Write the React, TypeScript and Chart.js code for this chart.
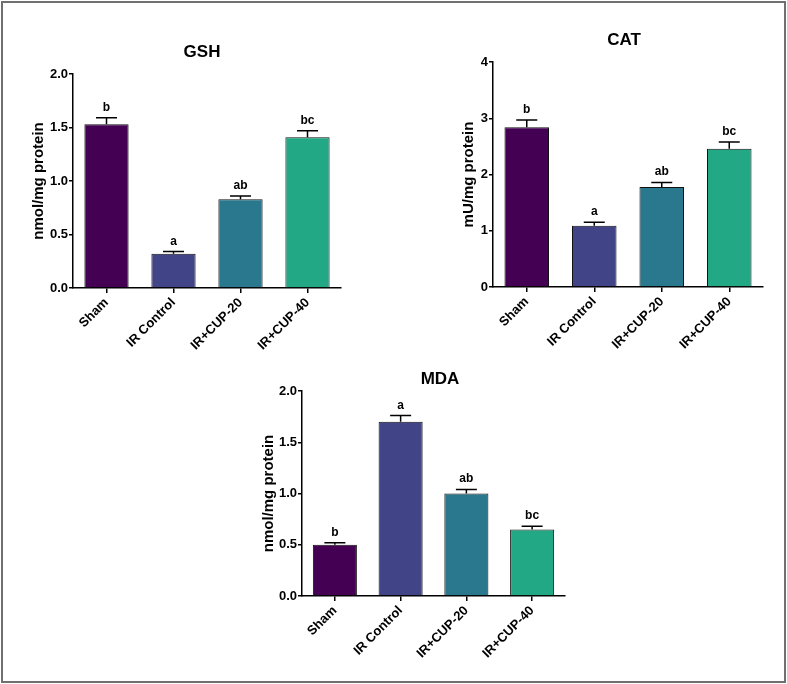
import React, { useEffect, useRef } from 'react';
import { Chart, registerables } from 'chart.js';

Chart.register(...registerables);

const FONT = 'Arial, "Liberation Sans", Helvetica, sans-serif';

// ---- data ----
const categories = ['Sham', 'IR Control', 'IR+CUP-20', 'IR+CUP-40'];
const barColors = ['#440154', '#414487', '#2a788e', '#22a884'];

const gshMean = [1.53, 0.32, 0.83, 1.41];
const gshSem = [0.06, 0.02, 0.03, 0.06];
const gshLetters = ['b', 'a', 'ab', 'bc'];
const gshTicks = [0, 0.5, 1.0, 1.5, 2.0];
const gshTickLabels = ['0.0', '0.5', '1.0', '1.5', '2.0'];

const catMean = [2.84, 1.09, 1.78, 2.46];
const catSem = [0.13, 0.06, 0.08, 0.12];
const catLetters = ['b', 'a', 'ab', 'bc'];
const catTicks = [0, 1, 2, 3, 4];
const catTickLabels = ['0', '1', '2', '3', '4'];

const mdaMean = [0.5, 1.7, 1.0, 0.65];
const mdaSem = [0.02, 0.06, 0.04, 0.03];
const mdaLetters = ['b', 'a', 'ab', 'bc'];
const mdaTicks = [0, 0.5, 1.0, 1.5, 2.0];
const mdaTickLabels = ['0.0', '0.5', '1.0', '1.5', '2.0'];

// ---- plugin: error bars, significance letters, panel title ----
const panelExtras = {
  id: 'panelExtras',
  afterDatasetsDraw(chart: any, _args: any, opts: any) {
    const ctx = chart.ctx;
    const meta = chart.getDatasetMeta(0);
    const ds = chart.data.datasets[0];
    const yScale = chart.scales.y;
    ctx.save();
    meta.data.forEach((bar: any, i: number) => {
      const mean = ds.data[i];
      const sem = opts.sem[i];
      const yMean = yScale.getPixelForValue(mean);
      const yTop = yScale.getPixelForValue(mean + sem);
      ctx.strokeStyle = '#000';
      ctx.lineWidth = 1.5;
      ctx.beginPath();
      ctx.moveTo(bar.x, yMean);
      ctx.lineTo(bar.x, yTop);
      ctx.moveTo(bar.x - opts.capWidth / 2, yTop);
      ctx.lineTo(bar.x + opts.capWidth / 2, yTop);
      ctx.stroke();
      ctx.fillStyle = '#000';
      ctx.font = `bold 12px ${FONT}`;
      ctx.textAlign = 'center';
      ctx.textBaseline = 'alphabetic';
      ctx.fillText(opts.letters[i], bar.x, yTop - opts.letterGap);
    });
    const ca = chart.chartArea;
    ctx.fillStyle = '#000';
    ctx.font = `bold 17px ${FONT}`;
    ctx.textAlign = 'center';
    ctx.textBaseline = 'middle';
    ctx.fillText(opts.title, (ca.left + ca.right) / 2 + opts.titleDx, ca.top - opts.titleDy);
    ctx.restore();
  },
};

function makeConfig(p: any) {
  return {
    type: 'bar',
    data: {
      labels: categories,
      datasets: [
        {
          data: p.mean,
          backgroundColor: barColors,
          borderColor: '#111',
          borderWidth: 1,
          barPercentage: p.barPct,
          categoryPercentage: 1,
        },
      ],
    },
    options: {
      responsive: false,
      maintainAspectRatio: false,
      animation: false,
      events: [],
      layout: { padding: { left: p.pl, top: p.pt, right: p.pr, bottom: 0 } },
      plugins: {
        legend: { display: false },
        tooltip: { enabled: false },
        title: { display: false },
        panelExtras: {
          sem: p.sem,
          letters: p.letters,
          title: p.title,
          titleDx: p.titleDx,
          titleDy: p.titleDy,
          capWidth: 21,
          letterGap: 7,
        },
      },
      scales: {
        x: {
          grid: {
            display: true,
            drawOnChartArea: false,
            drawTicks: true,
            tickLength: 5,
            color: '#000',
            lineWidth: 1.5,
            offset: false,
          },
          border: { display: true, color: '#000', width: 1.5 },
          ticks: {
            color: '#000',
            font: { family: FONT, size: 13, weight: 'bold' },
            minRotation: 45,
            maxRotation: 45,
            autoSkip: false,
            padding: 2,
          },
          afterFit: (s: any) => {
            s.height = p.xh;
          },
        },
        y: {
          min: p.ticks[0],
          max: p.ticks[p.ticks.length - 1],
          afterBuildTicks: (s: any) => {
            s.ticks = p.ticks.map((v: number) => ({ value: v }));
          },
          grid: {
            display: true,
            drawOnChartArea: false,
            drawTicks: true,
            tickLength: 4,
            color: '#000',
            lineWidth: 1.5,
          },
          border: { display: true, color: '#000', width: 1.5 },
          ticks: {
            color: '#000',
            font: { family: FONT, size: 13, weight: 'bold' },
            padding: 1,
            callback: (_v: any, i: number) => p.tickLabels[i],
          },
          title: {
            display: true,
            text: p.yTitle,
            color: '#000',
            font: { family: FONT, size: 15, weight: 'bold' },
            padding: { top: 4, bottom: 4 },
          },
          afterFit: (s: any) => {
            s.width = p.yw;
          },
        },
      },
    },
    plugins: [panelExtras],
  };
}

const panels = [
  {
    key: 'gsh',
    left: 0, top: 0, width: 360, height: 380,
    pl: 26, pt: 74, pr: 19, yw: 47, xh: 92, barPct: 0.66,
    mean: gshMean, sem: gshSem, letters: gshLetters,
    ticks: gshTicks, tickLabels: gshTickLabels,
    title: 'GSH', titleDx: -5, titleDy: 22,
    yTitle: 'nmol/mg protein',
  },
  {
    key: 'cat',
    left: 420, top: 0, width: 367, height: 380,
    pl: 36, pt: 62, pr: 24, yw: 37, xh: 93, barPct: 0.66,
    mean: catMean, sem: catSem, letters: catLetters,
    ticks: catTicks, tickLabels: catTickLabels,
    title: 'CAT', titleDx: -4, titleDy: 22,
    yTitle: 'mU/mg protein',
  },
  {
    key: 'mda',
    left: 230, top: 340, width: 360, height: 340,
    pl: 26, pt: 51, pr: 25, yw: 46, xh: 84, barPct: 0.67,
    mean: mdaMean, sem: mdaSem, letters: mdaLetters,
    ticks: mdaTicks, tickLabels: mdaTickLabels,
    title: 'MDA', titleDx: 6.5, titleDy: 12,
    yTitle: 'nmol/mg protein',
  },
];

function Panel({ p }: { p: any }) {
  const ref = useRef<HTMLCanvasElement | null>(null);
  useEffect(() => {
    if (!ref.current) return;
    const chart = new Chart(ref.current, makeConfig(p) as any);
    return () => chart.destroy();
  }, [p]);
  return (
    <canvas
      ref={ref}
      width={p.width}
      height={p.height}
      style={{ position: 'absolute', left: p.left, top: p.top, width: p.width, height: p.height }}
    />
  );
}

export default function App() {
  return (
    <div style={{ position: 'fixed', left: 0, top: 0, width: 787, height: 684, background: '#fff', overflow: 'hidden' }}>
      <div
        style={{
          position: 'absolute', left: 1, top: 1, width: 785, height: 682,
          border: '2px solid #707070', boxSizing: 'border-box',
        }}
      />
      {panels.map((p) => (
        <Panel key={p.key} p={p} />
      ))}
    </div>
  );
}
